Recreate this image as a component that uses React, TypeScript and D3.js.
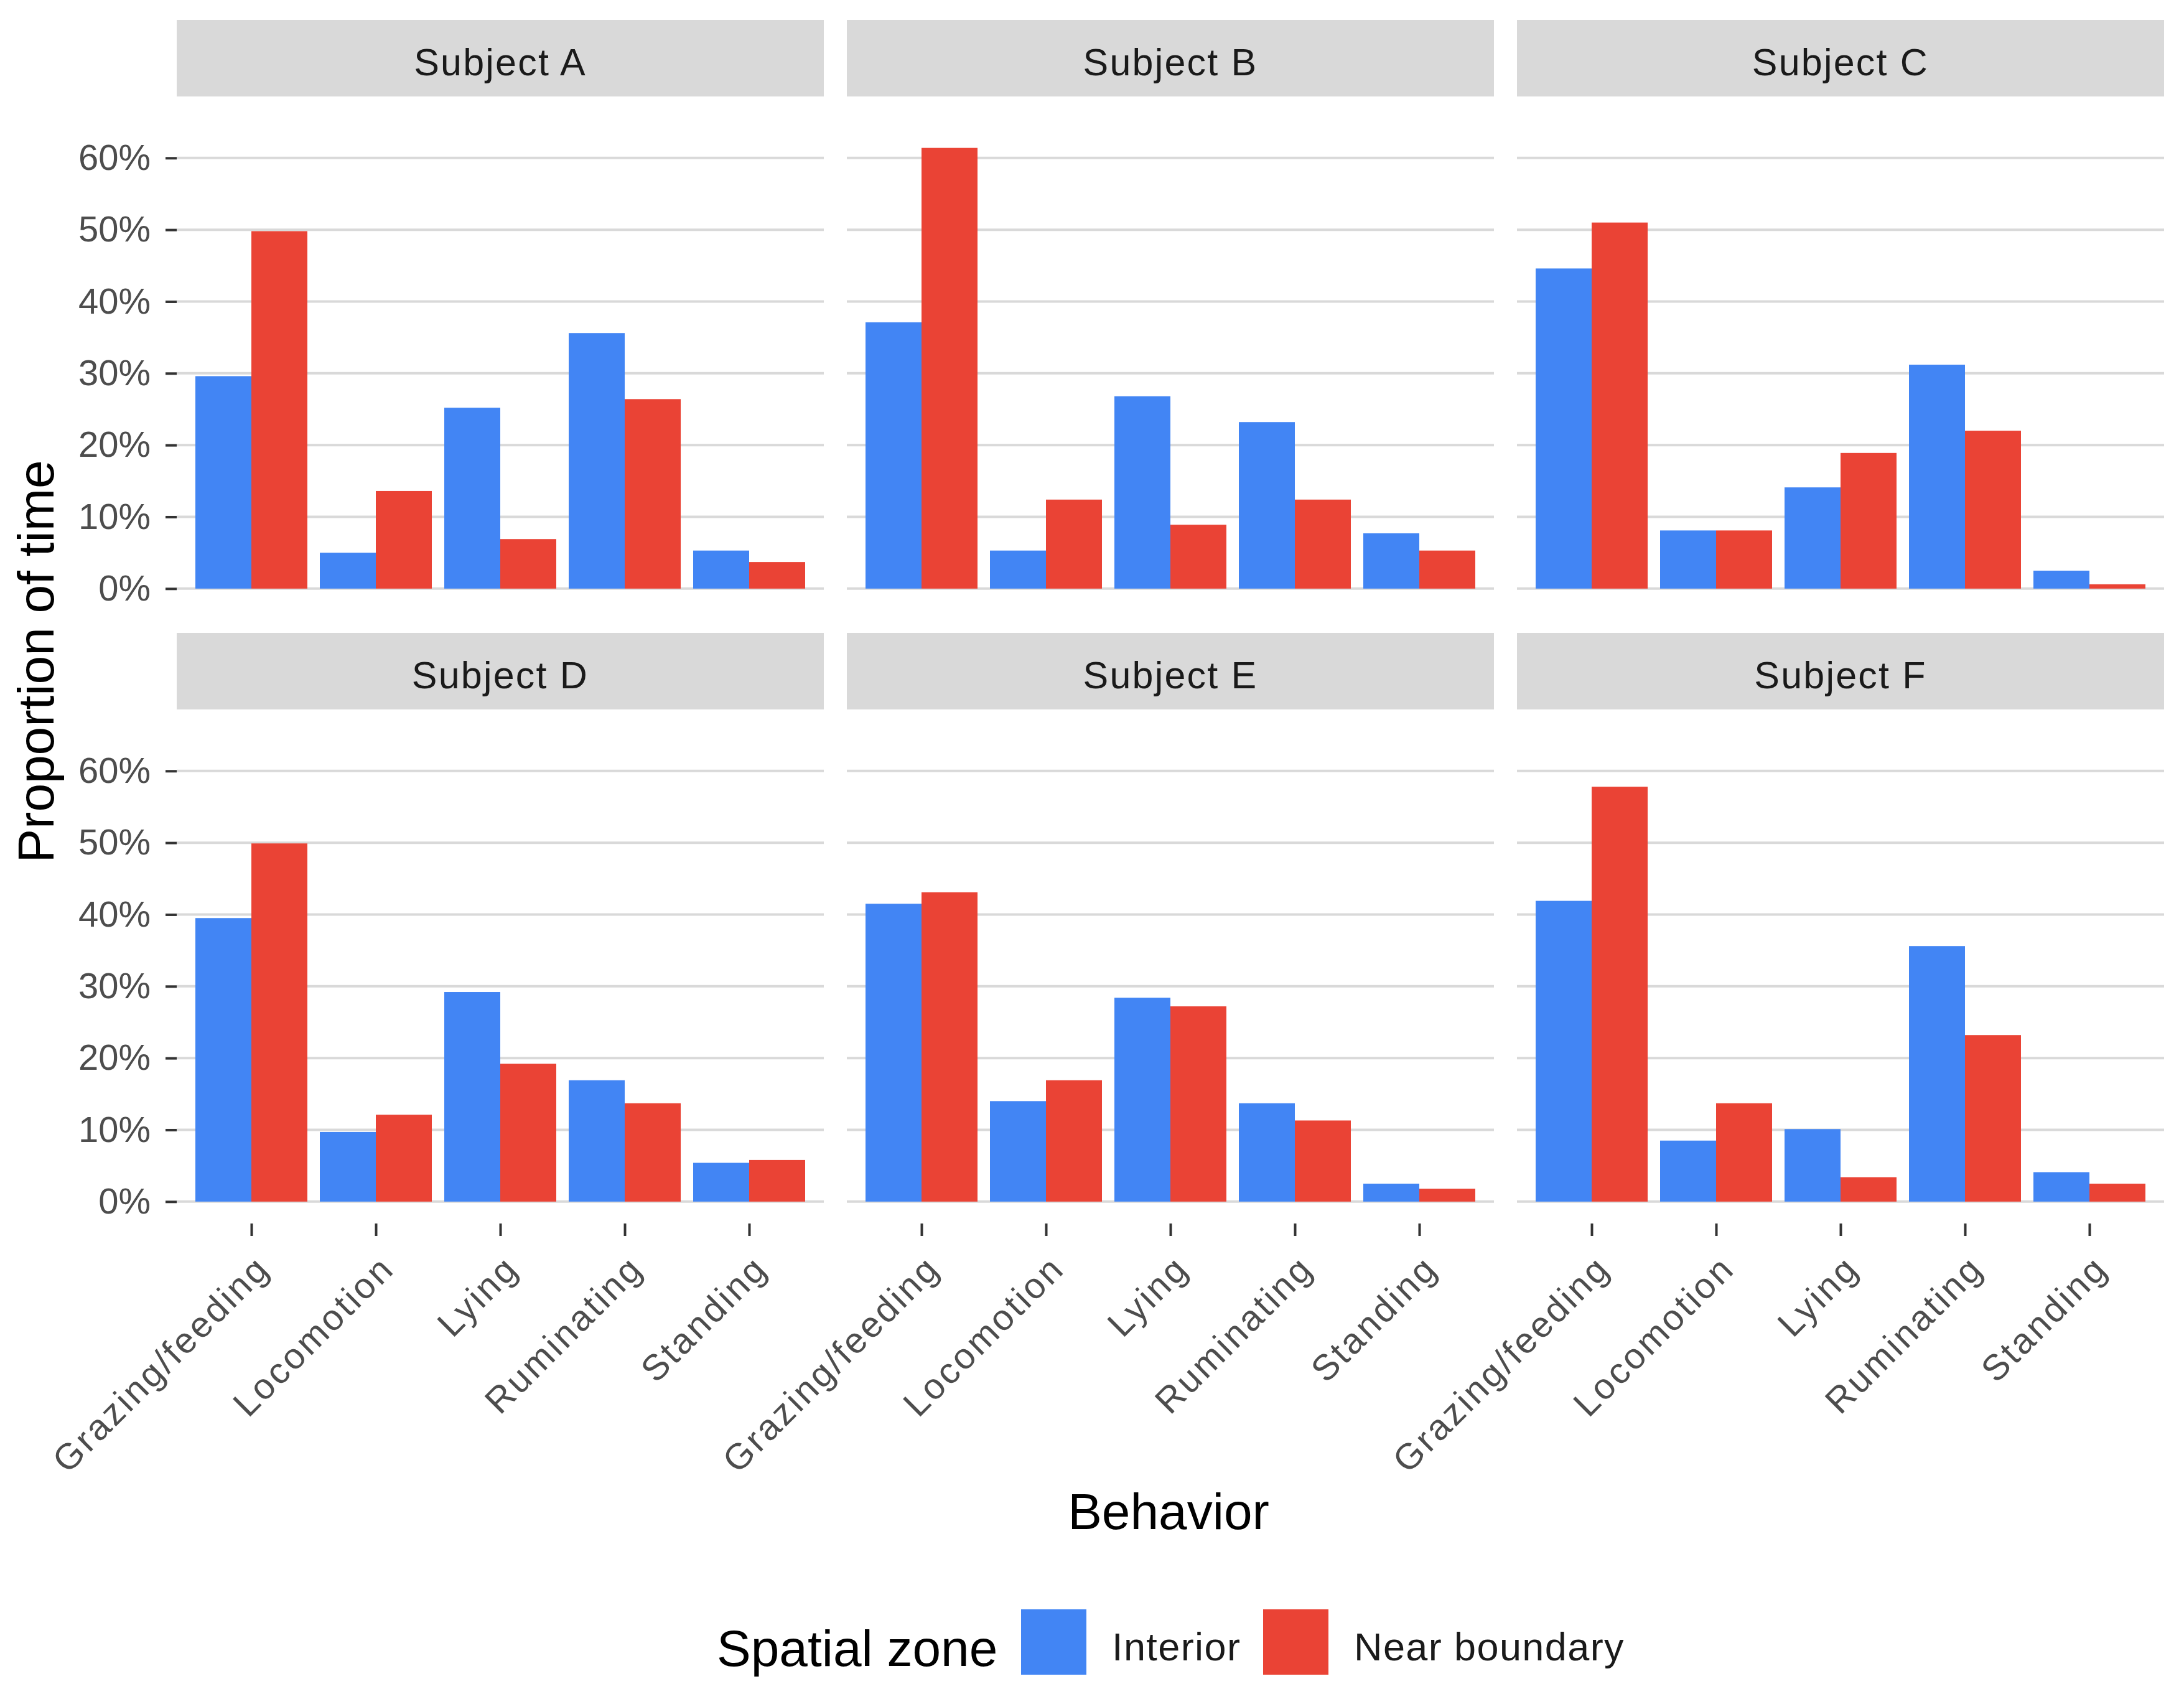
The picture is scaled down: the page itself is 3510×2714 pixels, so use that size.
import { useEffect, useRef } from "react";
import * as d3 from "d3";

// facets, categories and fill groups
const subjects = ["Subject A", "Subject B", "Subject C", "Subject D", "Subject E", "Subject F"];
const behaviors = ["Grazing/feeding", "Locomotion", "Lying", "Ruminating", "Standing"];
const zones = ["Interior", "Near boundary"];

// proportion of time per behavior, one row per subject (A..F)
const interiorShare = [
  [0.296, 0.05, 0.252, 0.356, 0.053],
  [0.371, 0.053, 0.268, 0.232, 0.077],
  [0.446, 0.081, 0.141, 0.312, 0.025],
  [0.395, 0.097, 0.292, 0.169, 0.054],
  [0.415, 0.14, 0.284, 0.137, 0.025],
  [0.419, 0.085, 0.101, 0.356, 0.041],
];
const nearBoundaryShare = [
  [0.498, 0.136, 0.069, 0.264, 0.037],
  [0.614, 0.124, 0.089, 0.124, 0.053],
  [0.51, 0.081, 0.189, 0.22, 0.006],
  [0.499, 0.121, 0.192, 0.137, 0.058],
  [0.431, 0.169, 0.272, 0.113, 0.018],
  [0.578, 0.137, 0.034, 0.232, 0.025],
];

const yTicks = [0, 0.1, 0.2, 0.3, 0.4, 0.5, 0.6];

const FONT = '"Liberation Sans", Arial, Helvetica, sans-serif';

export default function App() {
  const chartRef = useRef<SVGSVGElement>(null);

  useEffect(() => {
    const width = 3510;
    const height = 2714;

    const svg = d3.select(chartRef.current).attr("width", width).attr("height", height);
    svg.selectAll("*").remove();
    svg.append("rect").attr("width", width).attr("height", height).attr("fill", "#fff");

    // facet layout
    const left0 = 284;
    const stripTop0 = 32;
    const panelW = 1040;
    const colStep = 1077;
    const rowStep = 985;
    const stripH = 123;
    const panelH = 826;

    const x = d3.scalePoint<string>().domain(behaviors).range([0, panelW]).padding(0.6);
    const step = x.step();
    const xInner = d3.scaleBand<string>().domain(zones).range([-0.45 * step, 0.45 * step]);
    // zero at 790.8 px below panel top, 60% at 98.8
    const y = d3.scaleLinear().domain([0, 0.6]).range([790.8, 98.8]);
    const color = d3.scaleOrdinal<string, string>().domain(zones).range(["#4285F4", "#EA4335"]);

    subjects.forEach((subject, i) => {
      const col = i % 3;
      const row = Math.floor(i / 3);
      const g = svg
        .append("g")
        .attr("transform", `translate(${left0 + col * colStep},${stripTop0 + row * rowStep})`);

      // strip
      g.append("rect").attr("width", panelW).attr("height", stripH).attr("fill", "#D9D9D9");
      g.append("text")
        .attr("x", panelW / 2)
        .attr("y", 89)
        .attr("text-anchor", "middle")
        .attr("font-family", FONT)
        .attr("font-size", 61)
        .attr("letter-spacing", 2.2)
        .attr("fill", "#1A1A1A")
        .text(subject);

      const p = g.append("g").attr("transform", `translate(0,${stripH})`);

      // horizontal grid
      p.selectAll("line.grid")
        .data(yTicks)
        .join("line")
        .attr("class", "grid")
        .attr("x1", 0)
        .attr("x2", panelW)
        .attr("y1", (d) => y(d))
        .attr("y2", (d) => y(d))
        .attr("stroke", "#D9D9D9")
        .attr("stroke-width", 4);

      // dodged bars
      const rows = behaviors.map((b, j) => ({
        behavior: b,
        values: [
          { zone: zones[0], value: interiorShare[i][j] },
          { zone: zones[1], value: nearBoundaryShare[i][j] },
        ],
      }));

      p.selectAll("g.cat")
        .data(rows)
        .join("g")
        .attr("class", "cat")
        .attr("transform", (d) => `translate(${x(d.behavior)},0)`)
        .selectAll("rect")
        .data((d) => d.values)
        .join("rect")
        .attr("x", (d) => xInner(d.zone)!)
        .attr("width", xInner.bandwidth())
        .attr("y", (d) => y(d.value))
        .attr("height", (d) => y(0) - y(d.value))
        .attr("fill", (d) => color(d.zone));

      if (col === 0) {
        const yAxis = p
          .append("g")
          .call(
            d3
              .axisLeft(y)
              .tickValues(yTicks)
              .tickSize(18)
              .tickPadding(24)
              .tickFormat(d3.format(".0%") as any)
          );
        yAxis.select(".domain").remove();
        yAxis.selectAll("line").attr("stroke", "#333333").attr("stroke-width", 4);
        yAxis
          .selectAll("text")
          .attr("font-family", FONT)
          .attr("font-size", 58)
          .attr("fill", "#4D4D4D");
      }

      if (row === 1) {
        const xAxis = p
          .append("g")
          .attr("transform", `translate(0,${panelH})`)
          .call(d3.axisBottom(x).tickSize(20));
        xAxis.select(".domain").remove();
        xAxis.selectAll("line").attr("stroke", "#333333").attr("stroke-width", 4);
        xAxis
          .selectAll("text")
          .attr("x", 0)
          .attr("y", 0)
          .attr("dy", null)
          .attr("text-anchor", "end")
          .attr("transform", "translate(32,76) rotate(-45)")
          .attr("font-family", FONT)
          .attr("font-size", 58)
          .attr("letter-spacing", 3.6)
          .attr("fill", "#4D4D4D");
      }
    });

    // axis titles
    svg
      .append("text")
      .attr("transform", "translate(86,1063) rotate(-90)")
      .attr("text-anchor", "middle")
      .attr("font-family", FONT)
      .attr("font-size", 82)
      .attr("fill", "#000")
      .text("Proportion of time");

    svg
      .append("text")
      .attr("x", 1878)
      .attr("y", 2457)
      .attr("text-anchor", "middle")
      .attr("font-family", FONT)
      .attr("font-size", 82)
      .attr("fill", "#000")
      .text("Behavior");

    // legend
    const legend = svg.append("g");
    legend
      .append("text")
      .attr("x", 1152)
      .attr("y", 2677)
      .attr("font-family", FONT)
      .attr("font-size", 82)
      .attr("fill", "#000")
      .text("Spatial zone");

    const keyX = [1641, 2030];
    const item = legend
      .selectAll("g.item")
      .data(zones)
      .join("g")
      .attr("class", "item")
      .attr("transform", (d, k) => `translate(${keyX[k]},2586)`);
    item.append("rect").attr("width", 105).attr("height", 105).attr("fill", (d) => color(d));
    item
      .append("text")
      .attr("x", 146)
      .attr("y", 82)
      .attr("font-family", FONT)
      .attr("font-size", 63)
      .attr("letter-spacing", 1.4)
      .attr("fill", "#1A1A1A")
      .text((d) => d);
  }, []);

  return <svg ref={chartRef} style={{ position: "absolute", left: 0, top: 0, display: "block" }} />;
}
